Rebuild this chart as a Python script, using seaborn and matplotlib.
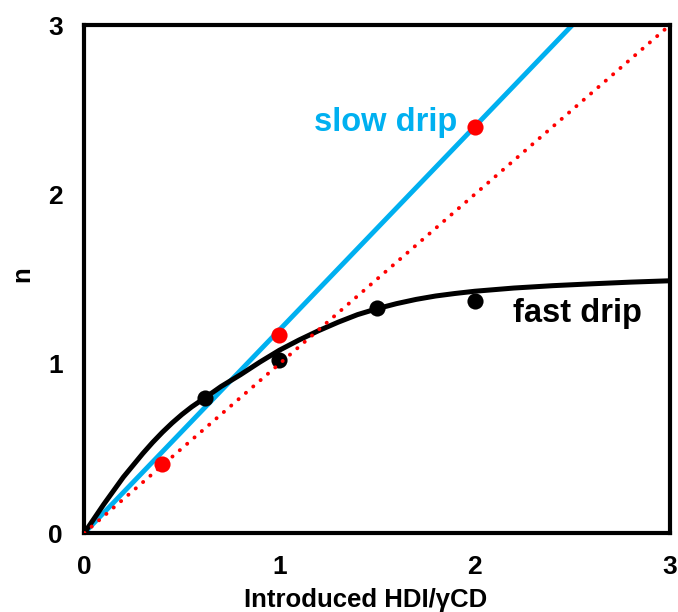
import matplotlib
matplotlib.use("Agg")
import matplotlib.pyplot as plt
import seaborn as sns

slow_x = [0.4, 1.0, 2.0]
slow_n = [0.41, 1.17, 2.40]
fast_x = [0.62, 1.0, 1.5, 2.0]
fast_n = [0.80, 1.02, 1.33, 1.37]

# slow drip 직선 (기울기 ~1.2)
slow_fit_x = [0.0, 2.5]
slow_fit_n = [0.0, 3.0]

# fast drip 곡선 (그림에서 읽은 점들)
fast_fit_x = [0.0, 0.05, 0.1, 0.15, 0.2, 0.25, 0.3, 0.35, 0.4, 0.45, 0.5,
              0.55, 0.62, 0.7, 0.8, 0.9, 1.0, 1.1, 1.2, 1.3, 1.4, 1.5,
              1.6, 1.7, 1.8, 1.9, 2.0, 2.2, 2.4, 2.6, 2.8, 3.0]
fast_fit_n = [0.0, 0.085, 0.17, 0.25, 0.33, 0.40, 0.47, 0.535, 0.595, 0.65, 0.70,
              0.745, 0.80, 0.865, 0.935, 1.01, 1.08, 1.14, 1.195, 1.245, 1.29, 1.325,
              1.355, 1.38, 1.40, 1.415, 1.428, 1.447, 1.461, 1.472, 1.482, 1.49]

# y = x 기준선
ideal_x = [0.0, 3.0]
ideal_n = [0.0, 3.0]

ticks = [0, 1, 2, 3]

sns.set_style("white")
plt.rcParams['font.family'] = ['Liberation Sans', 'DejaVu Sans']
plt.rcParams['font.weight'] = 'bold'
plt.rcParams['text.color'] = 'black'
plt.rcParams['axes.labelcolor'] = 'black'

fig = plt.figure(figsize=(6.78, 6.12), dpi=100)
ax = fig.add_axes([0.1243, 0.129, 0.8637, 0.830])

blue = '#00B0F0'
sns.lineplot(x=slow_fit_x, y=slow_fit_n, color=blue, lw=3.5, ax=ax, zorder=2)
sns.lineplot(x=fast_fit_x, y=fast_fit_n, color='black', lw=3.6, ax=ax, zorder=3)
sns.scatterplot(x=fast_x, y=fast_n, color='black', s=135, linewidth=0, ax=ax, zorder=4)
ax.plot(ideal_x, ideal_n, color='red', lw=2.8, dashes=(0.05, 2.45),
        dash_capstyle='round', zorder=5)
sns.scatterplot(x=slow_x, y=slow_n, color='red', s=135, linewidth=0, ax=ax, zorder=6)

ax.text(1.543, 2.376, 'slow drip', color=blue, fontsize=23.5, fontweight='bold',
        ha='center', va='baseline')
ax.text(2.525, 1.248, 'fast drip', color='black', fontsize=23.5, fontweight='bold',
        ha='center', va='baseline')

ax.set_xlim(0, 3)
ax.set_ylim(0, 3)
ax.set_xticks(ticks)
ax.set_yticks(ticks)
ax.set_xticklabels([str(t) for t in ticks], fontsize=19, fontweight='bold')
ax.set_yticklabels([str(t) for t in ticks], fontsize=19, fontweight='bold')
ax.tick_params(axis='both', direction='out', length=6.5, width=3, pad=9,
               color='black', labelcolor='black')
for s in ax.spines.values():
    s.set_linewidth(3)
    s.set_color('black')

ax.set_xlabel('Introduced HDI/γCD', fontsize=18.5, fontweight='bold', color='black')
ax.xaxis.set_label_coords(0.481, -0.108)
ax.set_ylabel('n', fontsize=18.5, fontweight='bold', color='black')
ax.yaxis.set_label_coords(-0.085, 0.51)

fig.savefig('out.png', dpi=100)
